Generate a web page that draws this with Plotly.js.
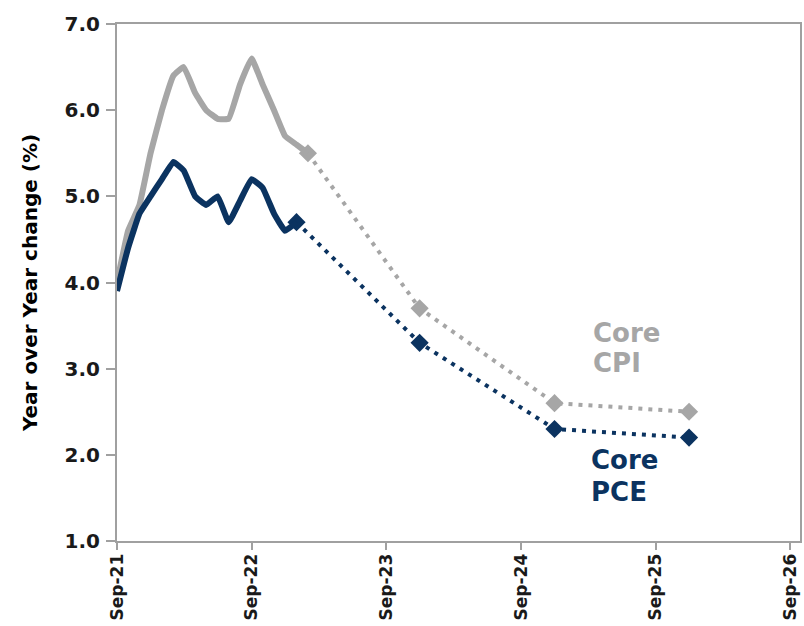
<!DOCTYPE html>
<html>
<head>
<meta charset="utf-8">
<script src="https://cdn.plot.ly/plotly-3.0.1.min.js"></script>
<style>
  html, body { margin: 0; padding: 0; background: #ffffff; }
  #chart { width: 804px; height: 626px; }
</style>
</head>
<body>
<div id="chart"></div>
<script>
// ---- Data ----
const actualDates = [
  '2021-09-01','2021-10-01','2021-11-01','2021-12-01',
  '2022-01-01','2022-02-01','2022-03-01','2022-04-01','2022-05-01','2022-06-01',
  '2022-07-01','2022-08-01','2022-09-01','2022-10-01','2022-11-01','2022-12-01',
  '2023-01-01','2023-02-01'
];
const coreCPI = [4.0, 4.6, 4.9, 5.5, 6.0, 6.4, 6.5, 6.2, 6.0, 5.9, 5.9, 6.3, 6.6, 6.3, 6.0, 5.7, 5.6, 5.5];
const corePCE = [3.9, 4.4, 4.8, 5.0, 5.2, 5.4, 5.3, 5.0, 4.9, 5.0, 4.7, 4.95, 5.2, 5.1, 4.8, 4.6, 4.7];

const projDates = ['2023-12-01', '2024-12-01', '2025-12-01'];
const cpiProjection = [3.7, 2.6, 2.5];
const pceProjection = [3.3, 2.3, 2.2];

const tickDates = ['2021-09-01','2022-09-01','2023-09-01','2024-09-01','2025-09-01','2026-09-01'];
const tickLabels = ['Sep-21','Sep-22','Sep-23','Sep-24','Sep-25','Sep-26'];
const yTicks = [1, 2, 3, 4, 5, 6, 7];

// ---- Styling ----
const GRAY = '#a6a6a6';
const NAVY = '#0b3360';
const FRAME = '#a0a0a0';
const FONT = 'DejaVu Sans, Arial, sans-serif';

// last actual point starts the projection path
const cpiLast = coreCPI.length - 1;
const pceLast = corePCE.length - 1;

const traces = [
  { // Core CPI projection (dotted)
    x: [actualDates[cpiLast]].concat(projDates),
    y: [coreCPI[cpiLast]].concat(cpiProjection),
    mode: 'lines+markers', type: 'scatter',
    line: { color: GRAY, width: 4, dash: '4px,6px' },
    marker: { symbol: 'diamond', size: 14, color: GRAY },
    hoverinfo: 'skip'
  },
  { // Core PCE projection (dotted)
    x: [actualDates[pceLast]].concat(projDates),
    y: [corePCE[pceLast]].concat(pceProjection),
    mode: 'lines+markers', type: 'scatter',
    line: { color: NAVY, width: 4, dash: '4px,6px' },
    marker: { symbol: 'diamond', size: 14, color: NAVY },
    hoverinfo: 'skip'
  },
  { // Core CPI actual
    x: actualDates.slice(0, coreCPI.length),
    y: coreCPI,
    mode: 'lines', type: 'scatter',
    line: { color: GRAY, width: 6, shape: 'spline', smoothing: 0.3 },
    hoverinfo: 'skip'
  },
  { // Core PCE actual
    x: actualDates.slice(0, corePCE.length),
    y: corePCE,
    mode: 'lines', type: 'scatter',
    line: { color: NAVY, width: 6, shape: 'spline', smoothing: 0.3 },
    hoverinfo: 'skip'
  }
];

const annFont = (c) => ({ family: FONT, size: 26, color: c, weight: 'bold' });

const layout = {
  width: 804, height: 626,
  margin: { l: 117, r: 4, t: 24, b: 85, pad: 0 },
  paper_bgcolor: '#ffffff', plot_bgcolor: '#ffffff',
  showlegend: false,
  font: { family: FONT, color: '#1a1a1a' },
  xaxis: {
    type: 'date',
    range: ['2021-09-01', '2026-09-28'],
    tickmode: 'array', tickvals: tickDates, ticktext: tickLabels,
    tickangle: -90,
    tickfont: { family: FONT, size: 17, color: '#1a1a1a', weight: 'bold' },
    ticks: 'outside', ticklen: 7, tickwidth: 2, tickcolor: FRAME,
    ticklabelstandoff: -3,
    showline: true, mirror: true, linecolor: FRAME, linewidth: 2,
    showgrid: false, zeroline: false, fixedrange: true
  },
  yaxis: {
    range: [1, 7],
    tickmode: 'array', tickvals: yTicks,
    tickformat: '.1f',
    tickfont: { family: FONT, size: 20, color: '#1a1a1a', weight: 'bold' },
    ticks: 'outside', ticklen: 9, tickwidth: 2, tickcolor: FRAME,
    ticklabelstandoff: 2,
    showline: true, mirror: true, linecolor: FRAME, linewidth: 2,
    showgrid: false, zeroline: false, fixedrange: true,
    title: { text: 'Year over Year change (%)', font: { family: FONT, size: 20, color: '#000000', weight: 'bold' }, standoff: 22 }
  },
  annotations: [
    { xref: 'paper', yref: 'paper', x: 0.694, y: (541 - 333) / 517, xanchor: 'left', yanchor: 'middle',
      text: 'Core', showarrow: false, font: annFont(GRAY) },
    { xref: 'paper', yref: 'paper', x: 0.694, y: (541 - 363) / 517, xanchor: 'left', yanchor: 'middle',
      text: 'CPI', showarrow: false, font: annFont(GRAY) },
    { xref: 'paper', yref: 'paper', x: 0.691, y: (541 - 460) / 517, xanchor: 'left', yanchor: 'middle',
      text: 'Core', showarrow: false, font: annFont(NAVY) },
    { xref: 'paper', yref: 'paper', x: 0.691, y: (541 - 492) / 517, xanchor: 'left', yanchor: 'middle',
      text: 'PCE', showarrow: false, font: annFont(NAVY) }
  ]
};

Plotly.newPlot('chart', traces, layout, { staticPlot: true, displayModeBar: false });
</script>
</body>
</html>
